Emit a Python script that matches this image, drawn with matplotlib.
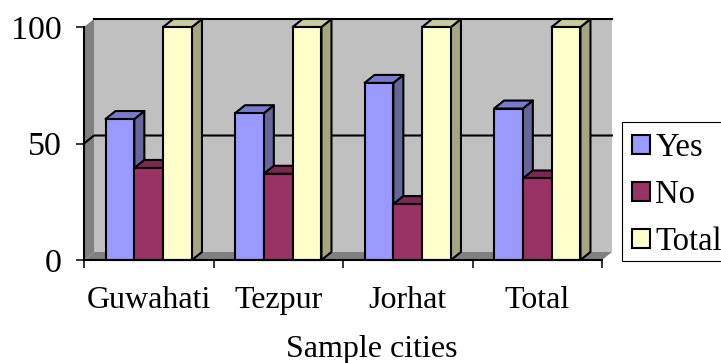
import matplotlib
matplotlib.use("Agg")
import matplotlib.pyplot as plt
from matplotlib.patches import Patch, Polygon, Rectangle

cities = ["Guwahati", "Tezpur", "Jorhat", "Total"]
yes_vals = [60.5, 63, 76, 65]
no_vals = [39.5, 37, 24, 35]
total_vals = [100, 100, 100, 100]
y_ticks = [0, 50, 100]

series = [
    ("Yes", yes_vals, "#9999FF", "#666699", "#7A7ACC"),
    ("No", no_vals, "#993366", "#662244", "#7A2952"),
    ("Total", total_vals, "#FFFFCC", "#A6A680", "#CCCCA3"),
]

plt.rcParams["font.family"] = ["Liberation Serif", "DejaVu Serif"]
W, H = 721, 363
lw = 1.5
fs = 23

fig = plt.figure(figsize=(W / 100, H / 100), dpi=100)
ax = fig.add_axes([84 / W, (H - 260) / H, 518 / W, 233 / H])
ax.set_xlim(0, 4)
ax.set_ylim(0, 100)
ax.patch.set_visible(False)

# fake 3d depth, in data units
dx = 10 / 129.5
dy = 8 / 2.33
bar_w = 0.2225
gap = (1 - 3 * bar_w) / 2


def poly(pts, fc, ec="none", z=1, w=lw):
    ax.add_patch(Polygon(pts, closed=True, facecolor=fc, edgecolor=ec,
                         linewidth=w, zorder=z, clip_on=False, joinstyle="round"))


# walls and floor
poly([(dx, dy), (4 + dx, dy), (4 + dx, 100 + dy), (dx, 100 + dy)], "#C0C0C0")
poly([(0, 0), (dx, dy), (dx, 100 + dy), (0, 100)], "#808080")
poly([(0, 0), (4, 0), (4 + dx, dy), (dx, dy)], "#808080")

# gridlines, back wall and side wall
ax.plot([0, dx, 4 + dx], [50, 50 + dy, 50 + dy], color="black", lw=lw, zorder=2, clip_on=False)
ax.plot([dx, 4 + dx], [100 + dy, 100 + dy], color="black", lw=lw, zorder=2, clip_on=False)

z = 3
for i in range(len(cities)):
    for j, (name, vals, front, side, top) in enumerate(series):
        v = vals[i]
        x0 = i + gap + j * bar_w
        x1 = x0 + bar_w
        poly([(x1, 0), (x1 + dx, dy), (x1 + dx, v + dy), (x1, v)], side, "black", z)
        poly([(x0, v), (x1, v), (x1 + dx, v + dy), (x0 + dx, v + dy)], top, "black", z)
        ax.bar(x0, v, width=bar_w, align="edge", color=front, edgecolor="black",
               linewidth=lw, zorder=z + 1, clip_on=False)
        z += 2

for s in ["top", "right"]:
    ax.spines[s].set_visible(False)
for s in ["left", "bottom"]:
    ax.spines[s].set_linewidth(lw)
    ax.spines[s].set_zorder(z + 1)

ax.set_yticks(y_ticks)
ax.set_xticks(range(5))
ax.set_xticklabels([])
ax.set_xticks([i + 0.5 for i in range(4)], minor=True)
ax.set_xticklabels(cities, minor=True, fontsize=fs)
ax.tick_params(axis="x", which="major", length=6, width=1.1)
ax.tick_params(axis="x", which="minor", length=0, pad=19)
ax.tick_params(axis="y", length=6, width=1.1, labelsize=24.5, pad=10)
ax.set_xlabel("Sample cities", fontsize=fs, labelpad=14, x=0.555)

handles = [Patch(facecolor=s[2], edgecolor="black", linewidth=lw) for s in series]
leg = ax.legend(
    handles,
    [s[0] for s in series],
    loc="upper left",
    bbox_to_anchor=(622 / W, (H - 123) / H),
    bbox_transform=fig.transFigure,
    fontsize=23.5,
    frameon=False,
    borderaxespad=0,
    borderpad=0.3,
    handlelength=0.56,
    handleheight=0.53,
    handletextpad=0.16,
    labelspacing=0.5,
)

# legend box runs off the right edge of the picture
fig.add_artist(Rectangle((622 / W, (H - 261) / H), 110 / W, 139 / H, transform=fig.transFigure,
                         facecolor="none", edgecolor="black", linewidth=0.8))

plt.savefig("out.png", dpi=100)
